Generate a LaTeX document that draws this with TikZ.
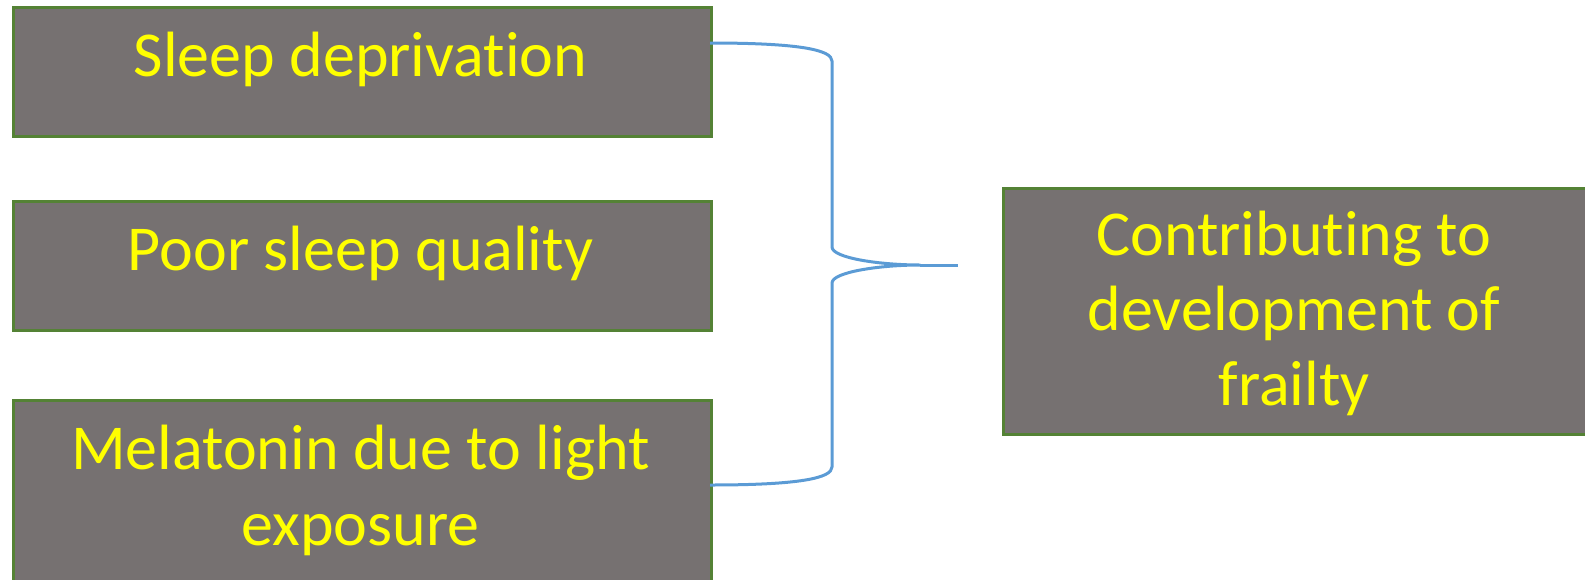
\documentclass[tikz,border=0pt]{standalone}
\usepackage{fontspec}
\setmainfont{Carlito}[Ligatures=NoCommon]
\usetikzlibrary{calc}
\definecolor{boxfill}{HTML}{767171}
\definecolor{boxline}{HTML}{548235}
\definecolor{txt}{HTML}{FFFF00}
\definecolor{brace}{HTML}{5B9BD5}
\begin{document}
\begin{tikzpicture}[x=1pt,y=-1pt,
  box/.style={draw=boxline,line width=3pt,fill=boxfill,rectangle,inner sep=0pt,anchor=north west},
  lbl/.style={text=txt,font=\fontsize{64}{76}\selectfont,align=center,anchor=base,inner sep=0pt},
  conn/.style={draw=brace,line width=3pt}]
\useasboundingbox (0,0) rectangle (1585,579);
\clip (0,0) rectangle (1585,579);
\node[box,minimum width=697.5pt,minimum height=129pt] (b1) at (12,5.5) {};
\node[box,minimum width=697.5pt,minimum height=129pt] (b2) at (12,199.5) {};
\node[box,minimum width=697.5pt,minimum height=210pt] (b3) at (12,398.5) {};
\node[box,minimum width=586pt,minimum height=246.5pt] (b4) at (1001.5,186.5) {};
\node[lbl] (t1) at (360.5,76) {Sleep deprivation};
\node[lbl] (t2) at (360.5,270) {Poor sleep quality};
\node[lbl] (t3) at (360.5,545) {Melatonin due to light\\exposure};
\node[lbl,font=\fontsize{64}{75}\selectfont] (t4) at (1294,405) {Contributing to\\development of\\frailty};
\coordinate (s1) at ($(b1.north east)+(-2.5,37.5)$);
\coordinate (s3) at ($(b3.north east)+(-2.5,86.5)$);
\coordinate (tip) at (920,265);
\coordinate (tipend) at (958,265);
\draw[conn,line join=round] (s1) .. controls (800,43) and (832,50) .. (832,61)
  -- (832,247) .. controls (832,258) and (880,265) .. (tip)
  .. controls (880,265) and (832,272) .. (832,283)
  -- (832,467) .. controls (832,478) and (800,485) .. (s3);
\draw[conn] (tip) -- (tipend);
\end{tikzpicture}
\end{document}
